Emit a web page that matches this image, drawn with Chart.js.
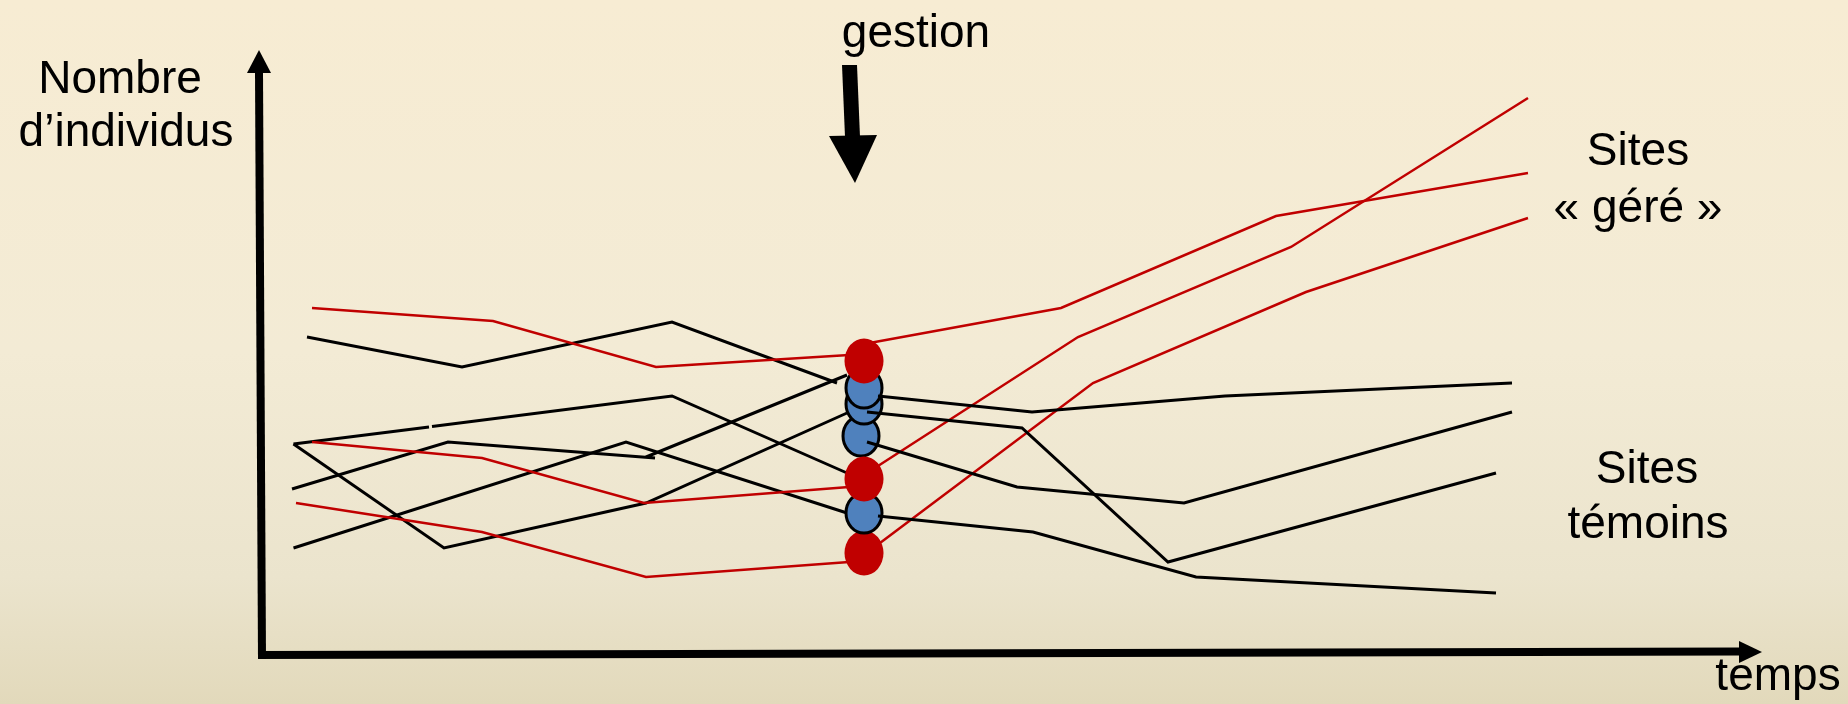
<!DOCTYPE html>
<html>
<head>
<meta charset="utf-8">
<script src="https://cdn.jsdelivr.net/npm/chart.js@4"></script>
<style>
  html, body { margin: 0; padding: 0; }
  #wrap {
    width: 1848px; height: 704px; position: relative;
    background: linear-gradient(to bottom, #f7ecd3 0%, #f3ebd5 50%, #ebe4cd 82%, #e2d9bb 100%);
  }
</style>
</head>
<body>
<div id="wrap"><canvas id="chart"></canvas></div>
<script>
// x = temps, y = nombre d'individus (arbitrary units)
const gestionT = 60.5;

// sites « géré » : avant / après gestion
const gere1Avant = [[5.3, 34.7], [23.4, 33.4], [39.7, 28.8], [59.0, 30.0]];
const gere2Avant = [[5.3, 21.3], [22.3, 19.7], [38.5, 15.2], [59.0, 16.8]];
const gere3Avant = [[3.7, 15.2], [22.3, 12.3], [38.7, 7.8], [59.0, 9.3]];
const gere1Apres = [[60.5, 31.1], [80.2, 34.7], [101.7, 43.9], [126.9, 48.2]];
const gere2Apres = [[60.5, 18.0], [81.9, 31.8], [103.2, 40.8], [126.9, 55.7]];
const gere3Apres = [[60.5, 10.0], [83.4, 27.2], [104.7, 36.3], [126.9, 43.7]];

// sites témoins : avant / après gestion
const temoin1Avant = [[4.8, 31.8], [20.3, 28.8], [41.3, 33.3], [57.8, 27.2]];
const temoin2AvantA = [[3.45, 21.1], [17.0, 22.8]];
const temoin2AvantB = [[17.3, 22.85], [41.3, 25.9], [58.8, 18.2]];
const temoin3Avant = [[3.45, 21.1], [18.5, 10.7], [38.7, 15.2], [58.8, 24.2]];
const temoin4Avant = [[3.3, 16.6], [18.9, 21.3], [39.6, 19.7], [38.7, 19.8], [58.8, 28.0]];
const temoin5Avant = [[3.45, 10.7], [36.7, 21.3], [58.8, 14.2]];
const temoin1Apres = [[61.9, 25.9], [77.3, 24.3], [96.6, 25.9], [125.3, 27.2]];
const temoin2Apres = [[60.8, 24.3], [76.3, 22.7], [90.9, 9.3], [123.7, 18.2]];
const temoin3Apres = [[60.8, 21.3], [75.8, 16.8], [92.5, 15.2], [125.3, 24.3]];
const temoin4Apres = [[61.9, 13.9], [77.4, 12.3], [93.7, 7.8], [123.7, 6.2]];

// état au moment de la gestion (drawn bottom to top)
const dotT = [60.5, 60.5, 60.2, 60.5, 60.5, 60.5, 60.5];
const dotN = [10.2, 14.2, 21.9, 17.6, 25.1, 26.7, 29.4];
const dotKind = ['gere', 'temoin', 'temoin', 'gere', 'temoin', 'temoin', 'gere'];

const RED = '#c00000';
const BLUE = '#4f81bd';

function xy(arr) {
  return arr.map(p => ({ x: p[0], y: p[1] }));
}

function ellipse(fill, stroke, w, h) {
  const c = document.createElement('canvas');
  c.width = w; c.height = h;
  const g = c.getContext('2d');
  const lw = stroke ? 3 : 0;
  g.beginPath();
  g.ellipse(w / 2, h / 2, w / 2 - lw / 2 - 0.5, h / 2 - lw / 2 - 0.5, 0, 0, Math.PI * 2);
  g.fillStyle = fill;
  g.fill();
  if (stroke) {
    g.lineWidth = lw;
    g.strokeStyle = stroke;
    g.stroke();
  }
  return c;
}

const redDot = ellipse(RED, null, 40, 46);
const blueDot = ellipse(BLUE, '#000', 40, 44);

function serie(arr, color, width, order) {
  return {
    data: xy(arr),
    showLine: true,
    borderColor: color,
    borderWidth: width,
    pointRadius: 0,
    tension: 0,
    order: order
  };
}

const datasets = [
  serie(temoin1Apres, '#000', 3, 0),
  serie(temoin2Apres, '#000', 3, 0),
  serie(temoin3Apres, '#000', 3, 0),
  serie(temoin4Apres, '#000', 3, 0),
  {
    data: dotT.map((t, i) => ({ x: t, y: dotN[i] })),
    showLine: false,
    pointStyle: dotKind.map(k => k === 'gere' ? redDot : blueDot),
    pointRadius: 20,
    order: 1
  },
  serie(gere1Avant, RED, 2.5, 2),
  serie(gere2Avant, RED, 2.5, 2),
  serie(gere3Avant, RED, 2.5, 2),
  serie(gere1Apres, RED, 2.5, 2),
  serie(gere2Apres, RED, 2.5, 2),
  serie(gere3Apres, RED, 2.5, 2),
  serie(temoin1Avant, '#000', 3, 2),
  serie(temoin2AvantA, '#000', 3, 2),
  serie(temoin2AvantB, '#000', 3, 2),
  serie(temoin3Avant, '#000', 3, 2),
  serie(temoin4Avant, '#000', 3, 2),
  serie(temoin5Avant, '#000', 3, 2)
];

const schema = {
  id: 'schema',
  beforeDatasetsDraw(chart) {
    const ctx = chart.ctx;
    const ca = chart.chartArea;
    ctx.save();
    ctx.strokeStyle = '#000';
    ctx.fillStyle = '#000';
    ctx.lineWidth = 8;
    // axe vertical
    ctx.beginPath();
    ctx.moveTo(ca.left + 3, ca.bottom + 4);
    ctx.lineTo(ca.left, ca.top + 22);
    ctx.stroke();
    ctx.beginPath();
    ctx.moveTo(ca.left, ca.top);
    ctx.lineTo(ca.left - 12, ca.top + 23);
    ctx.lineTo(ca.left + 12, ca.top + 23);
    ctx.closePath();
    ctx.fill();
    // axe horizontal
    ctx.beginPath();
    ctx.moveTo(ca.left - 1, ca.bottom);
    ctx.lineTo(ca.right - 22, ca.bottom - 3.5);
    ctx.stroke();
    ctx.beginPath();
    ctx.moveTo(ca.right, ca.bottom - 3);
    ctx.lineTo(ca.right - 23, ca.bottom - 14);
    ctx.lineTo(ca.right - 23, ca.bottom + 8);
    ctx.closePath();
    ctx.fill();
    // flèche gestion
    const ax = chart.scales.x.getPixelForValue(gestionT) - 11;
    ctx.beginPath();
    ctx.moveTo(ax - 11, 65);
    ctx.lineTo(ax + 4, 65);
    ctx.lineTo(ax + 7, 137);
    ctx.lineTo(ax - 8, 137);
    ctx.closePath();
    ctx.fill();
    ctx.beginPath();
    ctx.moveTo(ax - 24, 136);
    ctx.lineTo(ax + 24, 135);
    ctx.lineTo(ax + 2, 183);
    ctx.closePath();
    ctx.fill();
    ctx.restore();
  },
  afterDraw(chart) {
    const ctx = chart.ctx;
    ctx.save();
    ctx.fillStyle = '#000';
    ctx.font = '46px "Liberation Sans", Arial, sans-serif';
    ctx.textAlign = 'center';
    ctx.textBaseline = 'alphabetic';
    ctx.fillText('Nombre', 120, 93);
    ctx.fillText('d\u2019individus', 126, 146);
    ctx.fillText('gestion', 916, 47);
    ctx.fillText('Sites', 1638, 165);
    ctx.fillText('\u00ab g\u00e9r\u00e9 \u00bb', 1638, 222);
    ctx.fillText('Sites', 1647, 483);
    ctx.fillText('t\u00e9moins', 1648, 538);
    ctx.fillText('temps', 1778, 690);
    ctx.restore();
  }
};

new Chart(document.getElementById('chart'), {
  type: 'scatter',
  data: { datasets: datasets },
  options: {
    animation: false,
    responsive: true,
    maintainAspectRatio: false,
    events: [],
    layout: { padding: { left: 259, right: 86, top: 50, bottom: 49 } },
    scales: {
      x: { type: 'linear', min: 0, max: 150.3, display: false },
      y: { type: 'linear', min: 0, max: 60.5, display: false }
    },
    plugins: {
      legend: { display: false },
      tooltip: { enabled: false }
    }
  },
  plugins: [schema]
});
</script>
</body>
</html>
